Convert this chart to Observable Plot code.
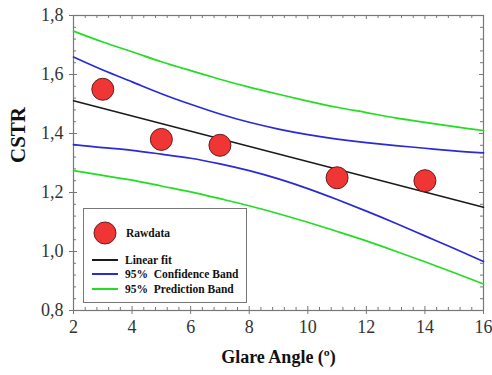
<!DOCTYPE html>
<html>
<head>
<meta charset="utf-8">
<script src="https://cdn.jsdelivr.net/npm/d3@7"></script>
<script src="https://cdn.jsdelivr.net/npm/@observablehq/plot@0.6"></script>
<style>
  body { margin: 0; background: #fff; }
  #wrap { position: relative; width: 492px; height: 375px; }
  #wrap svg, #wrap svg text { font-family: "Liberation Serif", serif !important; }
  #legend {
    position: absolute; left: 83px; top: 208px; width: 162px; height: 93px;
    border: 1.2px solid #777; background: #fff;
    font-family: "Liberation Serif", serif; font-weight: bold; font-size: 11.5px; color: #111;
  }
  #legend .row { position: absolute; left: 0; display: flex; align-items: center; white-space: nowrap; }
  #legend .sw { width: 26px; height: 0; margin-left: 8px; margin-right: 7px; border-top: 2px solid; }
</style>
</head>
<body>
<div id="wrap"></div>
<script>
// Raw data
const angle = [3, 5, 7, 11, 14];
const cstr = [1.55, 1.38, 1.36, 1.25, 1.24];

// Linear fit (read at the ends of the axis)
const fitX = [2, 16];
const fitY = [1.511, 1.150];

// Bands
const bandX      = [2, 3, 4, 5, 6, 7, 8, 9, 10, 11, 12, 13, 14, 15, 16];
const confUpper  = [1.659, 1.615, 1.575, 1.535, 1.499, 1.466, 1.438, 1.415, 1.396, 1.381, 1.369, 1.359, 1.350, 1.341, 1.334];
const confLower  = [1.362, 1.352, 1.343, 1.330, 1.316, 1.297, 1.274, 1.246, 1.213, 1.176, 1.137, 1.096, 1.053, 1.010, 0.966];
const predUpper  = [1.747, 1.710, 1.677, 1.643, 1.613, 1.584, 1.557, 1.533, 1.510, 1.489, 1.471, 1.453, 1.438, 1.423, 1.410];
const predLower  = [1.274, 1.258, 1.242, 1.222, 1.202, 1.179, 1.155, 1.128, 1.099, 1.068, 1.036, 1.001, 0.965, 0.928, 0.890];

// Ticks
const xMajor = [2, 4, 6, 8, 10, 12, 14, 16];
const yMajor = [0.8, 1.0, 1.2, 1.4, 1.6, 1.8];
const xMinor = d3.range(2, 16.001, 0.4).map(v => +v.toFixed(2)).filter(v => !xMajor.some(m => Math.abs(m - v) < 1e-6));
const yMinor = d3.range(0.8, 1.8001, 0.04).map(v => +v.toFixed(3)).filter(v => !yMajor.some(m => Math.abs(m - v) < 1e-6));

const GREEN = "#22dd22", BLUE = "#2a2ad6", BLACK = "#1a1a1a", FRAME = "#777";
const font = "Liberation Serif";

const band = (ys) => bandX.map((x, i) => ({x, y: ys[i]}));
const fit = fitX.map((x, i) => ({x, y: fitY[i]}));
const pts = angle.map((x, i) => ({x, y: cstr[i]}));

const plot = Plot.plot({
  width: 492, height: 375,
  marginLeft: 73, marginRight: 9, marginTop: 15, marginBottom: 65,
  style: {fontFamily: "'Liberation Serif', serif", fontSize: "17px", color: "#333", background: "#fff"},
  x: {domain: [2, 16], axis: null},
  y: {domain: [0.8, 1.8], axis: null},
  marks: [
    Plot.frame({stroke: FRAME, strokeWidth: 1.2}),
    // Outer major ticks
    Plot.ruleX(xMajor, {x: d => d, y1: 0.8, y2: 0.8, insetBottom: -4, stroke: FRAME}),
    Plot.ruleY(yMajor, {y: d => d, x1: 2, x2: 2, insetLeft: -4, stroke: FRAME}),
    // Tick labels
    Plot.text(xMajor, {x: d => d, frameAnchor: "bottom", dy: 22, text: d => String(d), fontSize: 18, fill: "#333", fontFamily: font}),
    Plot.text(yMajor, {y: d => d, frameAnchor: "left", dx: -10, textAnchor: "end", text: d => d.toFixed(1).replace(".", ","), fontSize: 18, fill: "#333", fontFamily: font}),
    // Inner ticks, bottom
    Plot.ruleX(xMinor, {x: d => d, y1: 0.8, y2: 0.8, insetTop: -3, stroke: FRAME}),
    Plot.ruleX(xMajor, {x: d => d, y1: 0.8, y2: 0.8, insetTop: -4, stroke: FRAME}),
    // top
    Plot.ruleX(xMinor, {x: d => d, y1: 1.8, y2: 1.8, insetBottom: -3, stroke: FRAME}),
    Plot.ruleX(xMajor, {x: d => d, y1: 1.8, y2: 1.8, insetBottom: -4, stroke: FRAME}),
    // left
    Plot.ruleY(yMinor, {y: d => d, x1: 2, x2: 2, insetRight: -3, stroke: FRAME}),
    Plot.ruleY(yMajor, {y: d => d, x1: 2, x2: 2, insetRight: -4, stroke: FRAME}),
    // right
    Plot.ruleY(yMinor, {y: d => d, x1: 16, x2: 16, insetLeft: -3, stroke: FRAME}),
    Plot.ruleY(yMajor, {y: d => d, x1: 16, x2: 16, insetLeft: -4, stroke: FRAME}),
    // Bands
    Plot.line(band(predUpper), {x: "x", y: "y", stroke: GREEN, strokeWidth: 1.7, curve: "natural"}),
    Plot.line(band(predLower), {x: "x", y: "y", stroke: GREEN, strokeWidth: 1.7, curve: "natural"}),
    Plot.line(band(confUpper), {x: "x", y: "y", stroke: BLUE, strokeWidth: 1.7, curve: "natural"}),
    Plot.line(band(confLower), {x: "x", y: "y", stroke: BLUE, strokeWidth: 1.7, curve: "natural"}),
    Plot.line(fit, {x: "x", y: "y", stroke: BLACK, strokeWidth: 1.5}),
    // Points
    Plot.dot(pts, {x: "x", y: "y", r: 11, fill: "#f03535", stroke: "#6a1d1d", strokeWidth: 1}),
    // Axis titles
    Plot.text(["CSTR"], {frameAnchor: "left", dx: -55, rotate: -90, fontSize: 21, fontWeight: "bold", fill: "#111", fontFamily: font}),
    Plot.text(["Glare Angle (º)"], {frameAnchor: "bottom", dy: 52, fontSize: 18, fontWeight: "bold", fill: "#111", fontFamily: font})
  ]
});

const wrap = document.getElementById("wrap");
wrap.appendChild(plot);

// Legend (inside plot area)
const legendItems = [
  {label: "Rawdata", type: "dot", top: 12},
  {label: "Linear fit", type: "line", color: BLACK, top: 51},
  {label: "95%\u00a0 Confidence Band", type: "line", color: BLUE, top: 65},
  {label: "95%\u00a0 Prediction Band", type: "line", color: GREEN, top: 80}
];
const lg = document.createElement("div");
lg.id = "legend";
for (const it of legendItems) {
  const row = document.createElement("div");
  row.className = "row";
  if (it.type === "dot") {
    row.style.top = it.top + "px";
    row.innerHTML = `<svg width="42" height="24" style="display:block"><circle cx="21" cy="12" r="11" fill="#f03535" stroke="#6a1d1d" stroke-width="1"/></svg><span>${it.label}</span>`;
  } else {
    row.style.top = (it.top - 7) + "px";
    row.style.height = "14px";
    row.innerHTML = `<div class="sw" style="border-color:${it.color}"></div><span>${it.label}</span>`;
  }
  lg.appendChild(row);
}
wrap.appendChild(lg);
</script>
</body>
</html>
